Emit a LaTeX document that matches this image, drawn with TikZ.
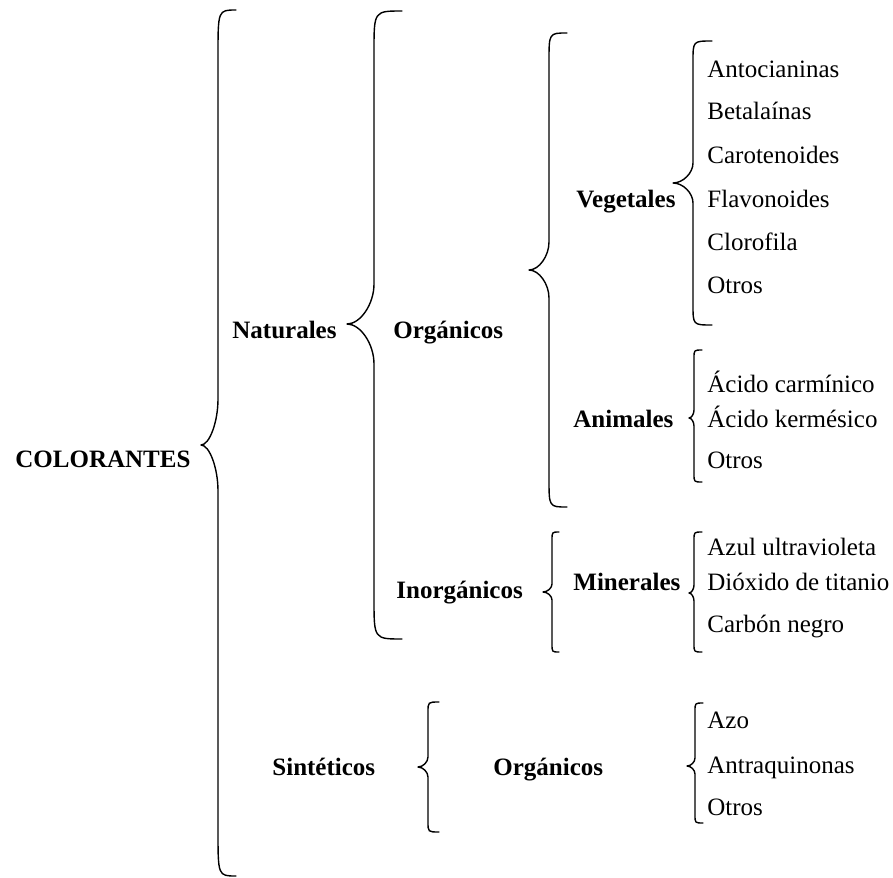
\documentclass[tikz,border=0pt]{standalone}
\usepackage{fontspec}
\setmainfont{Liberation Serif}

\tikzstyle{grupo} = [font=\fontsize{12.5}{15}\selectfont\bfseries, anchor=base west, inner sep=0pt]
\tikzstyle{hoja} = [font=\fontsize{12.5}{15}\selectfont, anchor=base west, inner sep=0pt]
\tikzstyle{llave} = [line width=0.7pt, line cap=round, line join=round]

% x linea, y arriba, y punta, y abajo, ancho extremo, ancho punta, curva
\newcommand{\dibujallave}[7]{%
  \draw[llave] (#1+#5,#2) .. controls (#1,#2) .. (#1,#2+#7) -- (#1,#3-#7)
    .. controls (#1,#3-#7/2) and (#1-#6/2,#3) .. (#1-#6,#3)
    .. controls (#1-#6/2,#3) and (#1,#3+#7/2) .. (#1,#3+#7) -- (#1,#4-#7)
    .. controls (#1,#4) .. (#1+#5,#4);}

\begin{document}
\begin{tikzpicture}[x=0.5pt, y=-0.5pt]
\useasboundingbox (0,0) rectangle (893,877);

\node (colorantes) [grupo] at (15,467) {COLORANTES};
\node (naturales) [grupo] at (232,338) {Naturales};
\node (organicos) [grupo] at (393,338) {Orgánicos};
\node (inorganicos) [grupo] at (396,598) {Inorgánicos};
\node (vegetales) [grupo] at (576,207) {Vegetales};
\node (animales) [grupo] at (573,427) {Animales};
\node (minerales) [grupo] at (573,590) {Minerales};
\node (sinteticos) [grupo] at (272,775) {Sintéticos};
\node (organicosb) [grupo] at (493,775) {Orgánicos};

\node (antocianinas) [hoja] at (707,78) {Antocianinas};
\node (betalainas) [hoja] at (707,120) {Betalaínas};
\node (carotenoides) [hoja] at (707,164) {Carotenoides};
\node (flavonoides) [hoja] at (707,207) {Flavonoides};
\node (clorofila) [hoja] at (707,250) {Clorofila};
\node (otrosveg) [hoja] at (707,293) {Otros};

\node (carminico) [hoja] at (707,392) {Ácido carmínico};
\node (kermesico) [hoja] at (707,427) {Ácido kermésico};
\node (otrosani) [hoja] at (707,468) {Otros};

\node (azul) [hoja] at (707,555) {Azul ultravioleta};
\node (dioxido) [hoja] at (707,590) {Dióxido de titanio};
\node (carbon) [hoja] at (707,632) {Carbón negro};

\node (azo) [hoja] at (707,728) {Azo};
\node (antraquinonas) [hoja] at (707,773) {Antraquinonas};
\node (otrossin) [hoja] at (707,815) {Otros};

% llaves
\dibujallave{218}{10}{445}{876}{18}{17}{46}
\dibujallave{374}{11}{324}{639}{28}{27}{40}
\dibujallave{549}{33}{270}{507}{18}{20}{28}
\dibujallave{693}{41}{183}{325}{19}{20}{20}
\dibujallave{694}{350}{418}{482}{8}{5}{8}
\dibujallave{552}{532}{592}{652}{7}{9}{8}
\dibujallave{694}{532}{593}{652}{8}{5}{8}
\dibujallave{428}{702}{767}{832}{11}{10}{10}
\dibujallave{695}{703}{766}{823}{8}{8}{8}
\end{tikzpicture}
\end{document}
